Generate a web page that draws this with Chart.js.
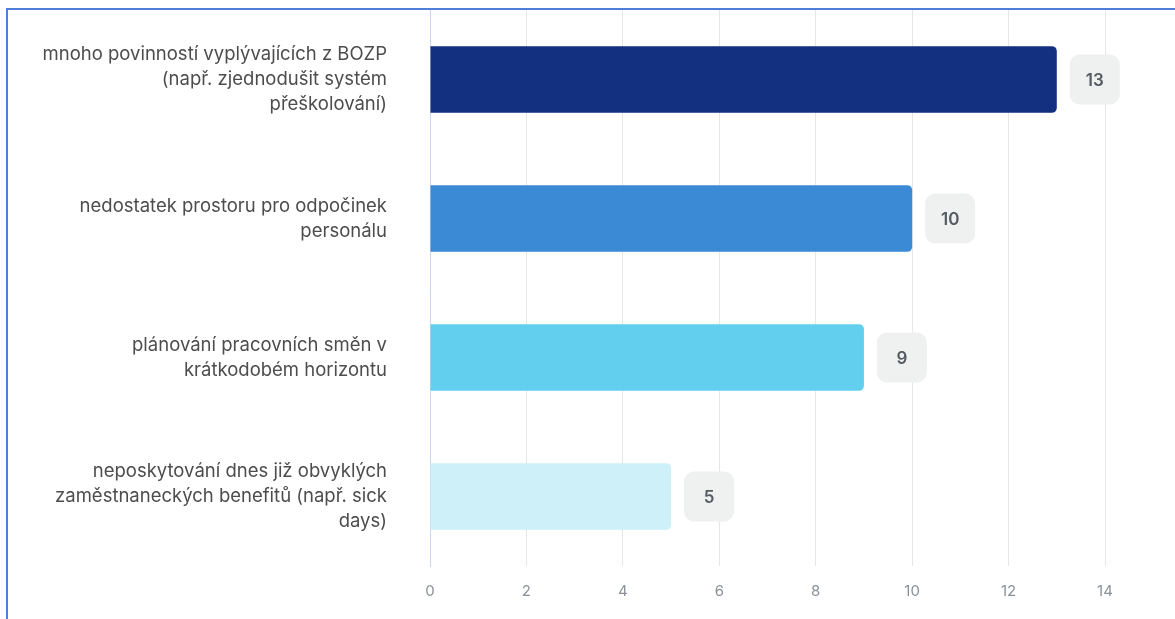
<!DOCTYPE html>
<html lang="cs">
<head>
<meta charset="utf-8">
<title>Bariéry</title>
<script src="https://cdn.jsdelivr.net/npm/chart.js@4.4.1/dist/chart.umd.min.js"></script>
<style>
  html, body { margin: 0; padding: 0; background: #fff; }
  #wrap { position: relative; width: 1175px; height: 619px; overflow: hidden; }
  #frame {
    position: absolute; left: 6px; top: 8px; width: 1200px; height: 700px;
    border-left: 2px solid #4d7fd6; border-top: 2px solid #4d7fd6;
    box-sizing: border-box; pointer-events: none;
  }
  #chart { position: absolute; left: 0; top: 0; }
</style>
</head>
<body>
<div id="wrap">
  <canvas id="chart" width="1175" height="619"></canvas>
  <div id="frame"></div>
</div>
<script>
const kategorie = [
  ['mnoho povinností vyplývajících z BOZP', '(např. zjednodušit systém', 'přeškolování)'],
  ['nedostatek prostoru pro odpočinek', 'personálu'],
  ['plánování pracovních směn v', 'krátkodobém horizontu'],
  ['neposkytování dnes již obvyklých', 'zaměstnaneckých benefitů (např. sick', 'days)']
];
const hodnoty = [13, 10, 9, 5];
const barvy = ['#12307f', '#3a8ad6', '#62cfef', '#cdf0f9'];
const osaMax = 14;
const osaKrok = 2;

// popisky hodnot v šedých zaoblených rámečcích vpravo od sloupců
const stitky = {
  id: 'stitky',
  afterDatasetsDraw(chart) {
    const ctx = chart.ctx;
    const meta = chart.getDatasetMeta(0);
    meta.data.forEach((bar, i) => {
      const w = 50, h = 50, r = 10;
      const x = bar.x + 13;
      const y = bar.y - h / 2;
      ctx.save();
      ctx.fillStyle = '#eff0f0';
      ctx.beginPath();
      ctx.roundRect(x, y, w, h, r);
      ctx.fill();
      ctx.fillStyle = '#555b63';
      ctx.font = '600 17px Inter';
      ctx.textAlign = 'center';
      ctx.textBaseline = 'middle';
      ctx.fillText(String(hodnoty[i]), x + w / 2, bar.y + 1);
      ctx.restore();
    });
  }
};

const ctx = document.getElementById('chart').getContext('2d');
new Chart(ctx, {
  type: 'bar',
  data: {
    labels: kategorie,
    datasets: [{
      data: hodnoty,
      backgroundColor: barvy,
      borderRadius: { topRight: 5, bottomRight: 5, topLeft: 0, bottomLeft: 0 },
      borderSkipped: false,
      categoryPercentage: 0.8,
      barPercentage: 0.6
    }]
  },
  options: {
    indexAxis: 'y',
    responsive: false,
    animation: false,
    layout: { padding: { top: 10, right: 70, bottom: 0, left: 10 } },
    plugins: {
      legend: { display: false },
      tooltip: { enabled: false }
    },
    scales: {
      x: {
        min: 0,
        max: osaMax,
        ticks: {
          stepSize: osaKrok,
          color: '#8b9099',
          font: { family: 'Inter', size: 15 },
          padding: 16
        },
        grid: { color: '#e6e6e6', drawTicks: false },
        border: { display: false },
        afterFit(scale) {
          scale.height = 53;
          scale.paddingLeft = 0;
          scale.paddingRight = 0;
        }
      },
      y: {
        ticks: {
          color: '#4d4d4d',
          font: { family: 'Inter', size: 18.5, lineHeight: 1.35 },
          padding: 43
        },
        grid: { display: false, drawTicks: false },
        border: { display: true, color: '#c9d6f2', width: 1 },
        afterFit(scale) {
          scale.width = 420;
          scale.paddingTop = 0;
          scale.paddingBottom = 0;
        }
      }
    }
  },
  plugins: [stitky]
});
</script>
</body>
</html>
